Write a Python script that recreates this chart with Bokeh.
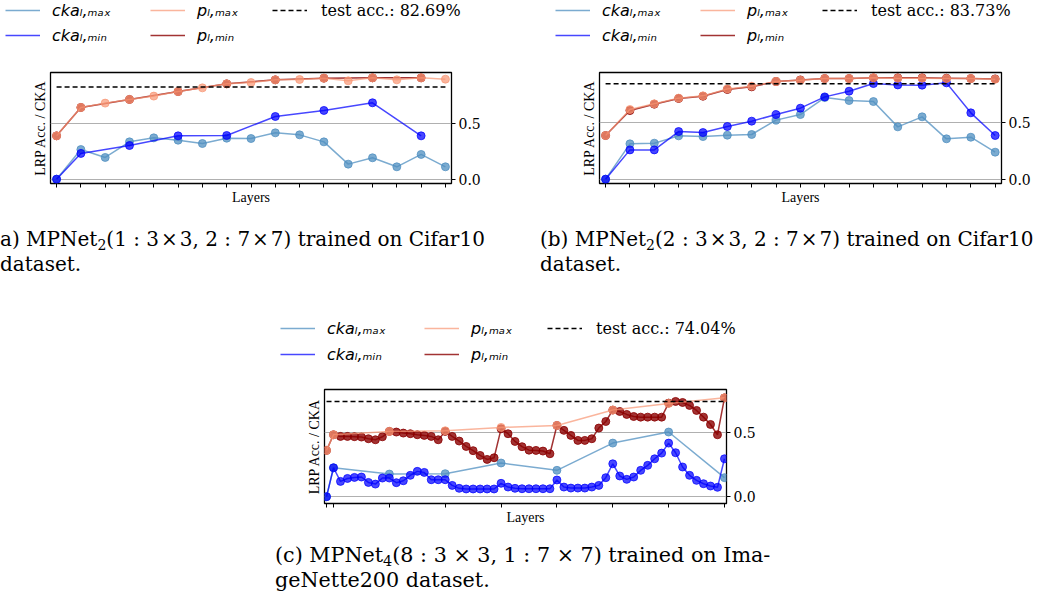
import math
from bokeh.plotting import figure
from bokeh.models import (Range1d, LinearAxis, FixedTicker, PrintfTickFormatter,
                          Legend, LegendItem, Div, Spacer)
from bokeh.layouts import row, column
from bokeh.embed import file_html
from bokeh.resources import INLINE

# ---------------- data ----------------
# panel (a)
a_layers = list(range(17))
a_cka_max = [0.0, 0.266, 0.195, 0.335, 0.371, 0.350, 0.320, 0.368, 0.365, 0.416,
             0.398, 0.335, 0.135, 0.192, 0.111, 0.222, 0.111]
a_min_layers = [0, 1, 3, 5, 7, 9, 11, 13, 15]
a_cka_min = [0.0, 0.231, 0.302, 0.389, 0.392, 0.563, 0.617, 0.686, 0.389]
a_p_max = [0.389, 0.644, 0.683, 0.716, 0.746, 0.787, 0.820, 0.856, 0.868, 0.892,
           0.895, 0.907, 0.883, 0.910, 0.892, 0.910, 0.898]
a_p_min = [0.389, 0.644, 0.716, 0.787, 0.856, 0.892, 0.907, 0.910, 0.910]
a_acc = 0.8269

# panel (b)
b_layers = list(range(17))
b_cka_max = [0.0, 0.310, 0.316, 0.380, 0.374, 0.386, 0.392, 0.518, 0.567, 0.716,
             0.690, 0.681, 0.459, 0.547, 0.354, 0.368, 0.237]
b_cka_min = [0.0, 0.257, 0.257, 0.418, 0.409, 0.462, 0.509, 0.567, 0.623, 0.722,
             0.772, 0.839, 0.827, 0.825, 0.845, 0.582, 0.383]
b_p_max = [0.383, 0.611, 0.661, 0.711, 0.731, 0.792, 0.816, 0.857, 0.868, 0.883,
           0.883, 0.889, 0.886, 0.886, 0.883, 0.883, 0.877]
b_p_min = [0.383, 0.602, 0.658, 0.708, 0.728, 0.787, 0.810, 0.857, 0.871, 0.883,
           0.883, 0.889, 0.889, 0.889, 0.886, 0.883, 0.880]
b_acc = 0.8373

# panel (c)
c_max_layers = [0, 1, 9, 17, 25, 33, 41, 49, 57]
c_cka_max = [0.0, 0.225, 0.176, 0.179, 0.262, 0.205, 0.417, 0.503, 0.148]
c_p_max = [0.360, 0.482, 0.508, 0.513, 0.539, 0.554, 0.674, 0.726, 0.769]
c_min_layers = list(range(58))
c_cka_min = [0.0, 0.225, 0.119, 0.142, 0.150, 0.153, 0.111, 0.098, 0.145, 0.145,
             0.109, 0.124, 0.166, 0.197, 0.189, 0.132, 0.132, 0.132, 0.088, 0.065,
             0.060, 0.060, 0.060, 0.060, 0.060, 0.104, 0.075, 0.065, 0.062, 0.062,
             0.062, 0.062, 0.062, 0.130, 0.075, 0.067, 0.067, 0.067, 0.075, 0.088,
             0.148, 0.256, 0.161, 0.135, 0.153, 0.205, 0.244, 0.295, 0.339, 0.417,
             0.342, 0.231, 0.166, 0.127, 0.101, 0.083, 0.073, 0.295]
c_p_min = [0.360, 0.482, 0.469, 0.469, 0.467, 0.464, 0.451, 0.443, 0.466, 0.508,
           0.503, 0.495, 0.490, 0.482, 0.477, 0.469, 0.443, 0.508, 0.469, 0.433,
           0.391, 0.358, 0.321, 0.290, 0.303, 0.528, 0.490, 0.430, 0.389, 0.362,
           0.360, 0.355, 0.334, 0.554, 0.516, 0.477, 0.438, 0.438, 0.451, 0.534,
           0.585, 0.674, 0.663, 0.640, 0.624, 0.619, 0.619, 0.619, 0.619, 0.728,
           0.741, 0.733, 0.710, 0.671, 0.619, 0.562, 0.482, 0.769]
c_acc = 0.7404

series_labels = ["cka\u2097,\u2098\u2090\u2093", "cka\u2097,\u2098\u1d62\u2099",
                 "p\u2097,\u2098\u2090\u2093", "p\u2097,\u2098\u1d62\u2099"]
acc_labels = ["test acc.: 82.69%", "test acc.: 83.73%", "test acc.: 74.04%"]

# ---------------- styles ----------------
# order: cka_max, cka_min, p_max, p_min
COL = ["#4f8fc0", "#0000ff", "#f89673", "#8b0000"]
ALPHA = [0.75, 0.72, 0.7, 0.8]
DRAW_ORDER = [0, 1, 3, 2]   # p_max drawn on top of p_min
NAN = [math.nan]            # placeholder row so that legend-only renderers have a glyph


def make_legend_fig(width, height, leg_x, row_h, row_gap, top, acc_label):
    lf = figure(width=width, height=height, x_range=Range1d(0, 1), y_range=Range1d(0, 1),
                output_backend="svg", toolbar_location=None, title=None,
                x_axis_location=None, y_axis_location=None, frame_align=False,
                min_border=0, min_border_left=0, min_border_right=0,
                min_border_top=0, min_border_bottom=0)
    lf.outline_line_color = None
    lf.grid.visible = False
    items = []
    for c, a, lab in zip(COL, ALPHA, series_labels):
        r = lf.line(NAN, NAN, line_color=c, line_alpha=a, line_width=1.5)
        items.append(LegendItem(label=lab, renderers=[r]))
    acc_r = lf.line(NAN, NAN, line_color="black", line_width=1.5, line_dash="5 3")
    leg_h = 2 * row_h + row_gap
    leg = Legend(items=items, location=(leg_x, height - top - leg_h), ncols=2,
                 orientation="vertical",
                 border_line_alpha=0, background_fill_alpha=0, padding=0, margin=0,
                 spacing=row_gap, glyph_width=35, glyph_height=row_h, label_height=row_h,
                 label_width=93, label_standoff=12,
                 label_text_font="DejaVu Sans", label_text_font_style="italic",
                 label_text_font_size="16px", label_text_baseline="middle",
                 label_text_color="black")
    lf.add_layout(leg)
    leg2 = Legend(items=[LegendItem(label=acc_label, renderers=[acc_r])],
                  location=(leg_x + 267, height - top - row_h),
                  border_line_alpha=0, background_fill_alpha=0, padding=0, margin=0,
                  spacing=0, glyph_width=35, glyph_height=row_h, label_height=row_h,
                  label_standoff=14,
                  label_text_font="DejaVu Serif", label_text_font_style="normal",
                  label_text_font_size="16px", label_text_baseline="middle",
                  label_text_color="black")
    lf.add_layout(leg2)
    return lf


def make_panel(width, height, borders, xr, yr, xticks, series, acc):
    bl, br, bt, bb = borders
    p = figure(width=width, height=height, x_range=Range1d(*xr), y_range=Range1d(*yr),
               output_backend="svg", toolbar_location=None, title=None, frame_align=False,
               min_border_left=bl, min_border_right=br, min_border_top=bt,
               min_border_bottom=bb)
    p.outline_line_color = "black"
    p.outline_line_width = 1.3
    p.xgrid.visible = False
    p.ygrid.ticker = FixedTicker(ticks=[0, 0.5])
    p.ygrid.grid_line_color = "#b0b0b0"
    p.ygrid.grid_line_width = 1

    # left axis: label only
    ly = p.yaxis[0]
    ly.ticker = FixedTicker(ticks=[])
    ly.major_tick_out = 0
    ly.major_tick_in = 0
    ly.minor_tick_out = 0
    ly.minor_tick_in = 0
    ly.major_label_standoff = 0
    ly.axis_line_color = None
    ly.axis_label = "LRP Acc. / CKA"
    ly.axis_label_text_font = "Liberation Serif"
    ly.axis_label_text_font_style = "normal"
    ly.axis_label_text_font_size = "14px"
    ly.axis_label_text_color = "black"
    ly.axis_label_standoff = 3

    # right axis with ticks
    ry = LinearAxis(ticker=FixedTicker(ticks=[0, 0.5]),
                    formatter=PrintfTickFormatter(format="%.1f"))
    ry.major_tick_out = 4
    ry.major_tick_in = 0
    ry.minor_tick_out = 0
    ry.minor_tick_in = 0
    ry.major_label_standoff = 3
    ry.axis_line_color = None
    ry.major_tick_line_color = "black"
    ry.major_label_text_font = "DejaVu Serif"
    ry.major_label_text_font_size = "14px"
    ry.major_label_text_color = "black"
    p.add_layout(ry, "right")

    # bottom axis: ticks (no tick labels) and label
    bx = p.xaxis[0]
    bx.ticker = FixedTicker(ticks=xticks)
    bx.major_label_text_alpha = 0
    bx.major_label_text_font_size = "1px"
    bx.major_label_standoff = 0
    bx.major_tick_out = 4
    bx.major_tick_in = 0
    bx.minor_tick_out = 0
    bx.minor_tick_in = 0
    bx.axis_line_color = None
    bx.major_tick_line_color = "black"
    bx.axis_label = "Layers"
    bx.axis_label_text_font = "Liberation Serif"
    bx.axis_label_text_font_style = "normal"
    bx.axis_label_text_font_size = "14px"
    bx.axis_label_text_color = "black"
    bx.axis_label_standoff = 2

    for k in DRAW_ORDER:
        xs, ys = series[k]
        p.line(xs, ys, line_color=COL[k], line_alpha=ALPHA[k], line_width=1.5)
        p.scatter(xs, ys, size=8, fill_color=COL[k], fill_alpha=ALPHA[k],
                  line_color=COL[k], line_alpha=ALPHA[k])
    p.line([xticks[0], xticks[-1]], [acc, acc], line_color="black",
           line_width=1.5, line_dash="5 3")
    return p


# legends
la = make_legend_fig(523, 50, 5, 20, 5, 0, acc_labels[0])
lb = make_legend_fig(516, 50, 32, 20, 5, 0, acc_labels[1])
lc = make_legend_fig(500, 70, 8, 22, 4, 17, acc_labels[2])

pa = make_panel(523, 157, (50, 72, 22, 24), (-0.25, 16.25), (-0.039, 0.958),
                a_layers,
                [(a_layers, a_cka_max), (a_min_layers, a_cka_min),
                 (a_layers, a_p_max), (a_min_layers, a_p_min)], a_acc)
pb = make_panel(516, 157, (76, 38, 22, 24), (-0.25, 16.26), (-0.038, 0.936),
                b_layers,
                [(b_layers, b_cka_max), (b_layers, b_cka_min),
                 (b_layers, b_p_max), (b_layers, b_p_min)], b_acc)
pc = make_panel(500, 157, (52, 46, 19, 24), (-0.29, 57.29), (-0.053, 0.834),
                c_max_layers,
                [(c_max_layers, c_cka_max), (c_min_layers, c_cka_min),
                 (c_max_layers, c_p_max), (c_min_layers, c_p_min)], c_acc)

SUB = '<sub style="font-size:70%;vertical-align:-0.3em;line-height:0">{}</sub>'
cap_ab = ("font-family:'DejaVu Serif';font-size:20px;line-height:25px;"
          "color:black;white-space:nowrap;")
cap_a = Div(text=('<div style="' + cap_ab + 'padding-top:20px;">a) MPNet' + SUB.format("2") +
                  '(1 : 3&#8202;&times;&#8202;3, 2 : 7&#8202;&times;&#8202;7) trained on Cifar10'
                  '<br>dataset.</div>'),
            width=523, height=93, margin=(0, 0, 0, 0))
cap_b = Div(text=('<div style="' + cap_ab + 'padding-top:20px;padding-left:17px;">(b) MPNet' +
                  SUB.format("2") +
                  '(2 : 3&#8202;&times;&#8202;3, 2 : 7&#8202;&times;&#8202;7) trained on Cifar10'
                  '<br>dataset.</div>'),
            width=516, height=93, margin=(0, 0, 0, 0))
cap_c_style = ("font-family:'DejaVu Serif';font-size:20.7px;line-height:25px;"
               "color:black;white-space:nowrap;padding-top:16px;padding-left:3px;")
cap_c = Div(text=('<div style="' + cap_c_style + '">(c) MPNet' + SUB.format("4") +
                  '(8 : 3 &times; 3, 1 : 7 &times; 7) trained on Ima-<br>'
                  'geNette200 dataset.</div>'),
            width=560, height=67, margin=(0, 0, 0, 0))

layout = column(
    row(column(la, pa), column(lb, pb)),
    row(cap_a, cap_b),
    row(Spacer(width=272, height=227), column(lc, pc)),
    row(Spacer(width=272, height=67), cap_c),
)

open("out.html", "w").write(file_html(layout, INLINE))
